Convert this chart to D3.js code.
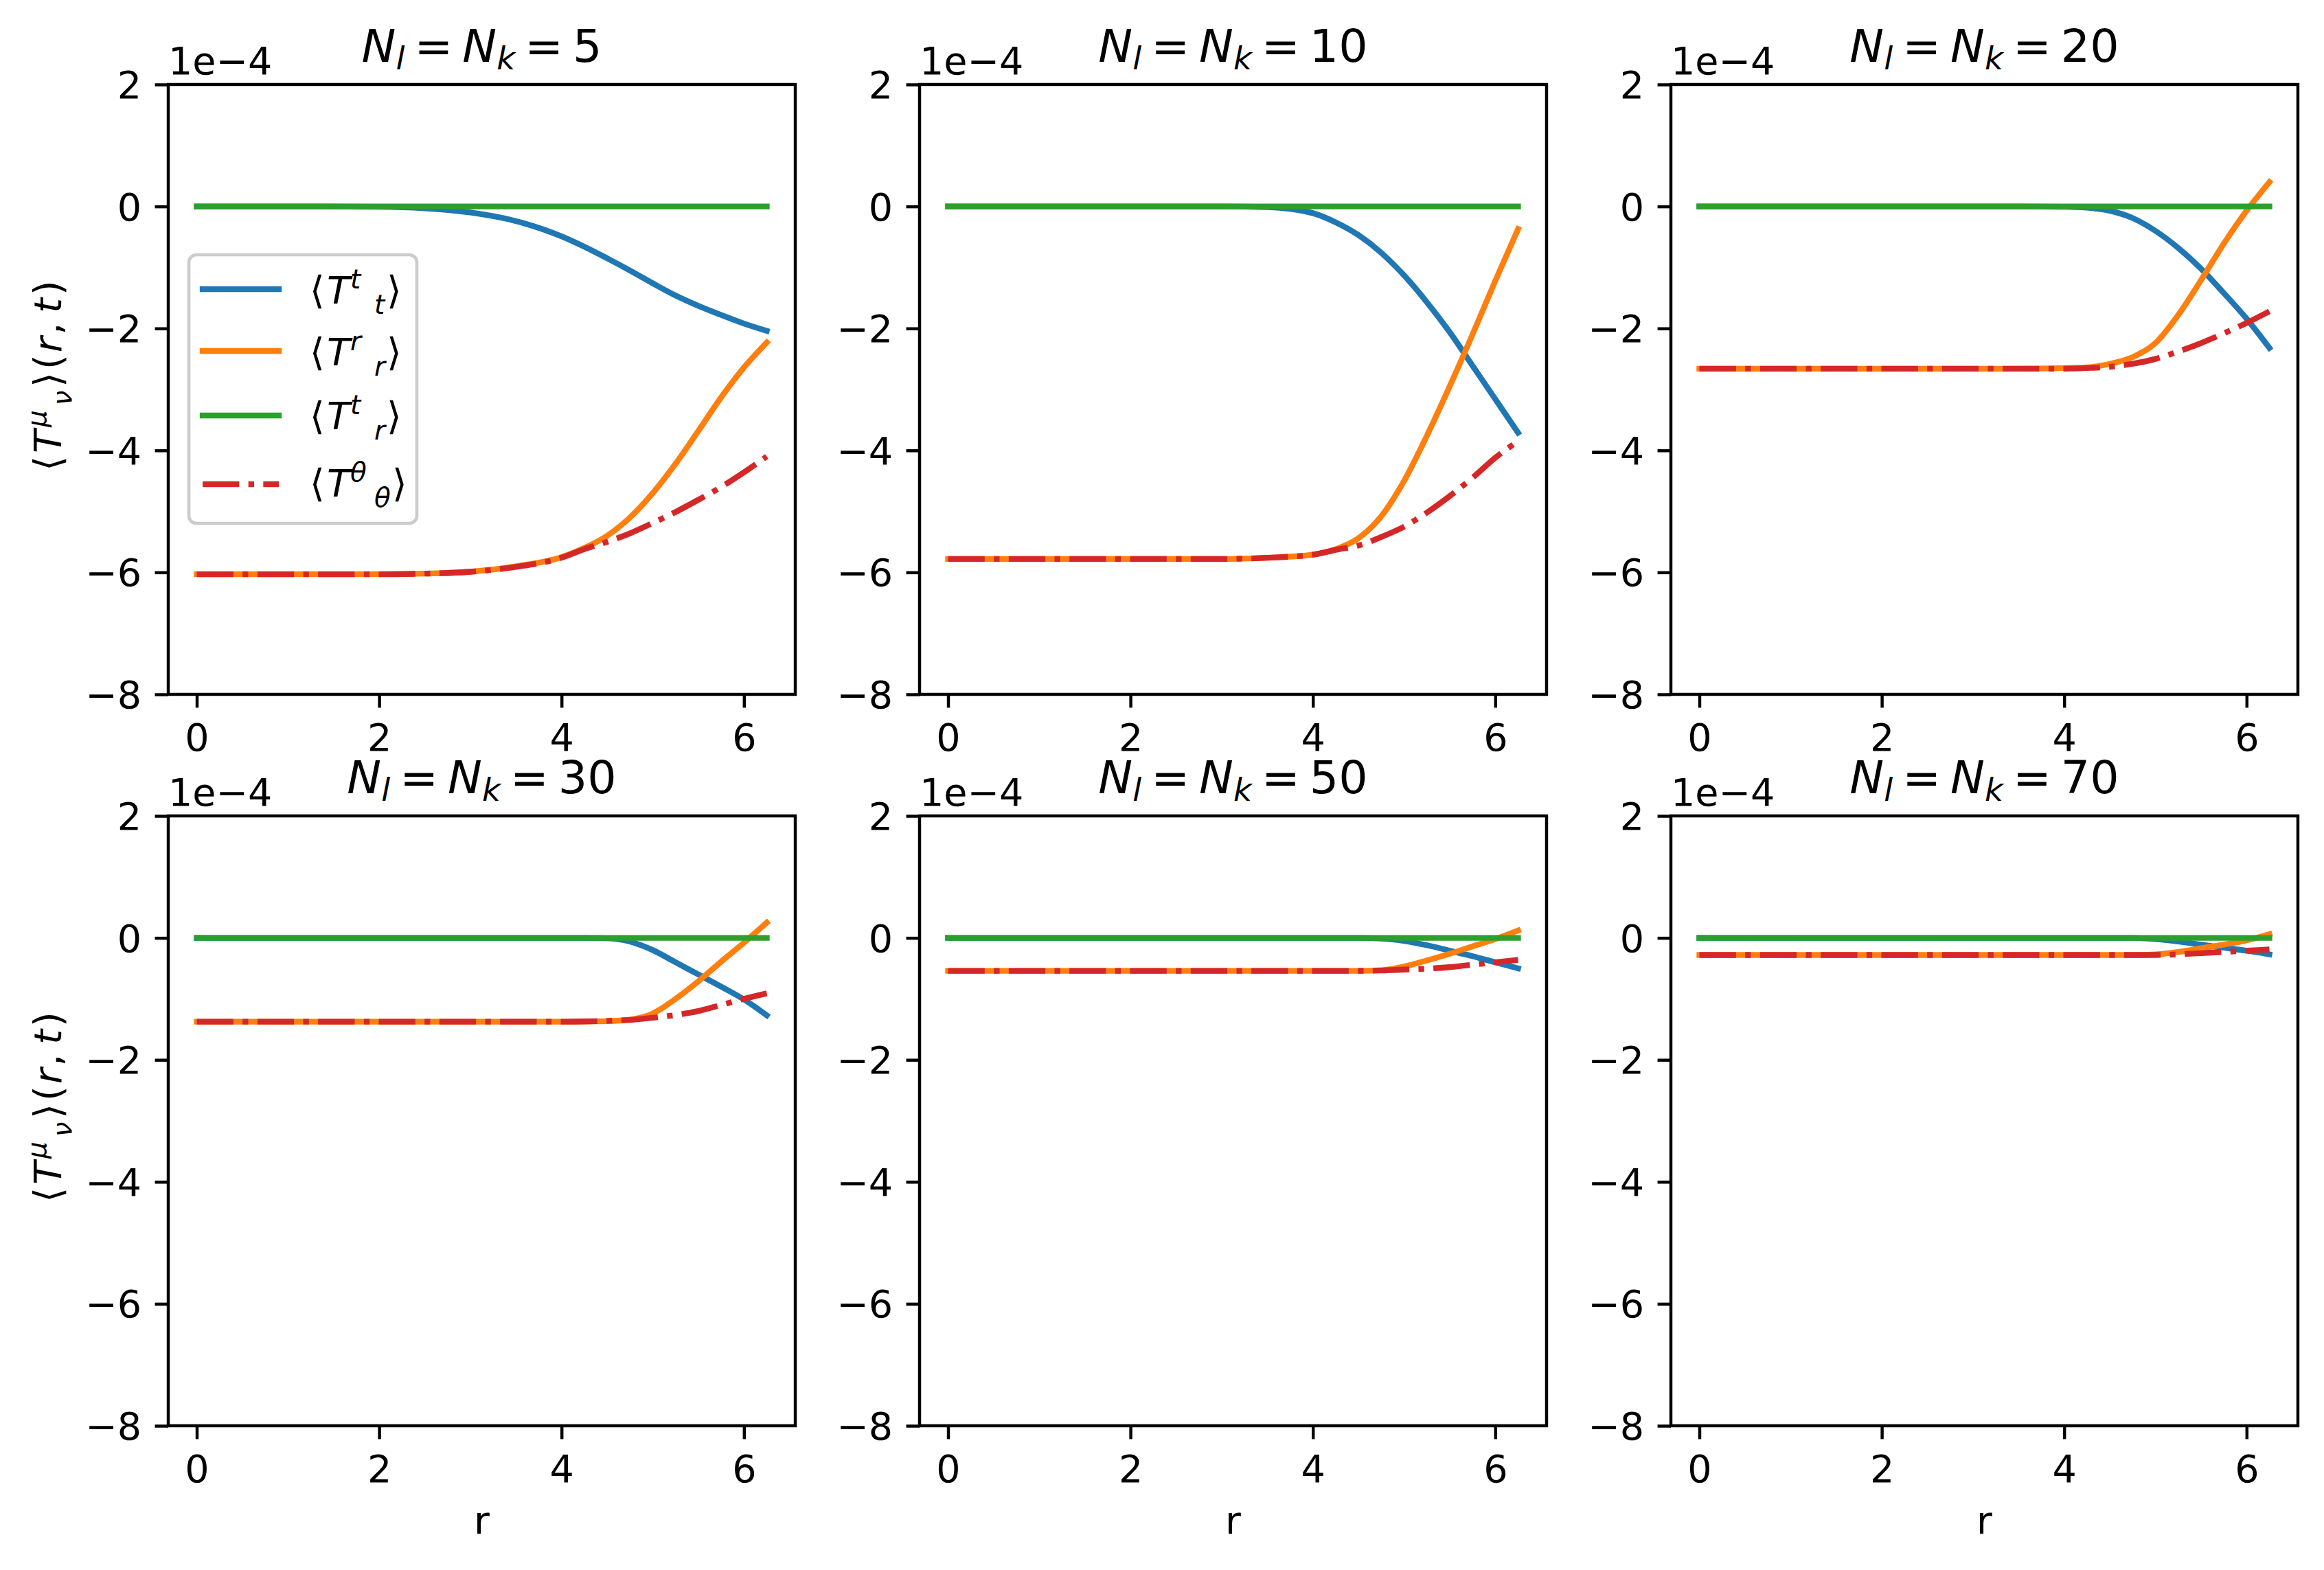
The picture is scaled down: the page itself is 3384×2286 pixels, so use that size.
<!DOCTYPE html>
<html><head><meta charset="utf-8">
<script src="https://cdn.jsdelivr.net/npm/d3@7"></script>
<style>html,body{margin:0;padding:0;background:#fff;}svg{display:block;}text{font-family:"DejaVu Sans",sans-serif;}</style>
</head><body><div id="chart"></div>
<script>
// ---- data (values in units of 1e-4) ----
const panelN = [5, 10, 20, 30, 50, 70];
const rGrid = [0, 1, 2, 2.5, 3, 3.5, 4, 4.25, 4.5, 4.75, 5, 5.25, 5.5, 5.75, 6, 6.25];
const xTicks = [0, 2, 4, 6];
const yTicks = [-8, -6, -4, -2, 0, 2];
const yDomain = [-8, 2];
const offsetLabel = "1e\u22124";
const Ttt = [
  [0, 0, -0.005, -0.03, -0.10, -0.24, -0.49, -0.66, -0.85, -1.05, -1.26, -1.46, -1.63, -1.78, -1.92, -2.04],
  [0, 0, 0, 0, 0, -0.01, -0.11, -0.26, -0.47, -0.76, -1.13, -1.57, -2.06, -2.61, -3.16, -3.71],
  [0, 0, 0, 0, 0, 0, -0.005, -0.02, -0.07, -0.19, -0.40, -0.68, -1.02, -1.42, -1.84, -2.32],
  [0, 0, 0, 0, 0, 0, 0, 0, -0.005, -0.06, -0.20, -0.40, -0.60, -0.80, -1.01, -1.27],
  [0, 0, 0, 0, 0, 0, 0, 0, 0, -0.01, -0.05, -0.12, -0.21, -0.30, -0.40, -0.50],
  [0, 0, 0, 0, 0, 0, 0, 0, 0, 0, -0.02, -0.06, -0.11, -0.16, -0.21, -0.27]
];
const Trr = [
  [-6.03, -6.03, -6.03, -6.02, -5.99, -5.90, -5.75, -5.60, -5.40, -5.10, -4.70, -4.22, -3.68, -3.13, -2.64, -2.23],
  [-5.78, -5.78, -5.78, -5.78, -5.78, -5.76, -5.71, -5.62, -5.44, -5.08, -4.50, -3.76, -2.95, -2.10, -1.22, -0.37],
  [-2.66, -2.66, -2.66, -2.66, -2.66, -2.66, -2.65, -2.64, -2.58, -2.47, -2.24, -1.78, -1.21, -0.61, -0.07, 0.40],
  [-1.375, -1.375, -1.375, -1.375, -1.375, -1.375, -1.375, -1.37, -1.365, -1.34, -1.24, -1.00, -0.71, -0.39, -0.08, 0.25],
  [-0.54, -0.54, -0.54, -0.54, -0.54, -0.54, -0.54, -0.54, -0.54, -0.53, -0.47, -0.37, -0.26, -0.14, -0.02, 0.12],
  [-0.28, -0.28, -0.28, -0.28, -0.28, -0.28, -0.28, -0.28, -0.28, -0.28, -0.27, -0.23, -0.17, -0.11, -0.04, 0.06]
];
const Ttr = [
  [0, 0, 0, 0, 0, 0, 0, 0, 0, 0, 0, 0, 0, 0, 0, 0],
  [0, 0, 0, 0, 0, 0, 0, 0, 0, 0, 0, 0, 0, 0, 0, 0],
  [0, 0, 0, 0, 0, 0, 0, 0, 0, 0, 0, 0, 0, 0, 0, 0],
  [0, 0, 0, 0, 0, 0, 0, 0, 0, 0, 0, 0, 0, 0, 0, 0],
  [0, 0, 0, 0, 0, 0, 0, 0, 0, 0, 0, 0, 0, 0, 0, 0],
  [0, 0, 0, 0, 0, 0, 0, 0, 0, 0, 0, 0, 0, 0, 0, 0]
];
const Tthth = [
  [-6.03, -6.03, -6.03, -6.02, -5.99, -5.91, -5.76, -5.62, -5.50, -5.36, -5.19, -5.01, -4.81, -4.60, -4.36, -4.10],
  [-5.78, -5.78, -5.78, -5.78, -5.78, -5.76, -5.71, -5.63, -5.56, -5.42, -5.25, -5.02, -4.75, -4.45, -4.12, -3.85],
  [-2.66, -2.66, -2.66, -2.66, -2.66, -2.66, -2.66, -2.65, -2.63, -2.58, -2.50, -2.38, -2.24, -2.08, -1.91, -1.72],
  [-1.375, -1.375, -1.375, -1.375, -1.375, -1.375, -1.375, -1.37, -1.36, -1.345, -1.31, -1.265, -1.20, -1.10, -1.00, -0.91],
  [-0.54, -0.54, -0.54, -0.54, -0.54, -0.54, -0.54, -0.54, -0.54, -0.535, -0.52, -0.505, -0.48, -0.44, -0.40, -0.36],
  [-0.28, -0.28, -0.28, -0.28, -0.28, -0.28, -0.28, -0.28, -0.28, -0.28, -0.28, -0.27, -0.25, -0.23, -0.21, -0.19]
];
const legendSup = ["t", "r", "t", "\u03b8"];
const legendSub = ["t", "r", "r", "\u03b8"];

// ---- layout ----
const W = 3384, H = 2286, PT = 400 / 72;
const axW = 913, axH = 888, left0 = 245, top0 = 123, colStep = 1094, rowStep = 1065;
const FS = 10 * PT, TFS = 12 * PT;
const colors = ["#1f77b4", "#ff7f0e", "#2ca02c", "#d62728"];
const seriesData = [Ttt, Trr, Ttr, Tthth];
const dash = [9.6, 2.4, 1.5, 2.4].map(v => v * PT).join(" ");

const svg = d3.select("#chart").append("svg").attr("width", W).attr("height", H).attr("viewBox", `0 0 ${W} ${H}`);
svg.append("rect").attr("width", W).attr("height", H).attr("fill", "#fff");

// mathtext-like helper: pieces {t, it, s, off(px down), dx}
function mtext(sel, pieces, size) {
  let prev = 0;
  pieces.forEach(p => {
    const ts = sel.append("tspan").text(p.t)
      .attr("font-size", size * (p.s || 1))
      .attr("font-style", p.it ? "italic" : "normal");
    const off = p.off || 0;
    if (off - prev !== 0) ts.attr("dy", off - prev);
    if (p.dx) ts.attr("dx", p.dx);
    prev = off;
  });
}

const xMin = d3.min(rGrid), xMax = d3.max(rGrid), xPad = (xMax - xMin) * 0.05;

panelN.forEach((n, i) => {
  const col = i % 3, row = Math.floor(i / 3);
  const left = left0 + col * colStep, top = top0 + row * rowStep;
  const x = d3.scaleLinear().domain([xMin - xPad, xMax + xPad]).range([left, left + axW]);
  const y = d3.scaleLinear().domain(yDomain).range([top + axH, top]);
  const g = svg.append("g");

  const line = d3.line().x((d, j) => x(rGrid[j])).y(d => y(d)).curve(d3.curveMonotoneX);
  seriesData.forEach((s, k) => {
    const p = g.append("path").attr("d", line(s[i])).attr("fill", "none")
      .attr("stroke", colors[k]).attr("stroke-width", 1.5 * PT)
      .attr("stroke-linejoin", "round")
      .attr("stroke-linecap", k === 3 ? "butt" : "square");
    if (k === 3) p.attr("stroke-dasharray", dash);
  });

  // axes
  const xa = g.append("g").attr("transform", `translate(0,${top + axH})`)
    .call(d3.axisBottom(x).tickValues(xTicks).tickSize(3.5 * PT).tickPadding(3.5 * PT).tickFormat(d3.format("d")));
  const ya = g.append("g").attr("transform", `translate(${left},0)`)
    .call(d3.axisLeft(y).tickValues(yTicks).tickSize(3.5 * PT).tickPadding(3.5 * PT).tickFormat(d3.format("d")));
  [xa, ya].forEach(a => {
    a.select(".domain").remove();
    a.selectAll(".tick line").attr("stroke", "#000").attr("stroke-width", 0.8 * PT);
    a.selectAll(".tick text").attr("font-size", FS).attr("fill", "#000").attr("font-family", "DejaVu Sans");
  });
  xa.selectAll(".tick text").attr("dy", "0.78em");
  ya.selectAll(".tick text").attr("dy", "0.35em");

  g.append("rect").attr("x", left).attr("y", top).attr("width", axW).attr("height", axH)
    .attr("fill", "none").attr("stroke", "#000").attr("stroke-width", 0.8 * PT);

  // offset text
  g.append("text").attr("x", left).attr("y", top - 15).attr("font-size", FS).text(offsetLabel);

  // title
  const tt = g.append("text").attr("x", left + axW / 2).attr("y", top - 6 * PT).attr("text-anchor", "middle");
  mtext(tt, [
    { t: "N", it: true },
    { t: "l", it: true, s: 0.7, off: 11 },
    { t: "=", off: 0, dx: 14 },
    { t: "N", it: true, dx: 14 },
    { t: "k", it: true, s: 0.7, off: 11 },
    { t: "=", off: 0, dx: 14 },
    { t: String(n), dx: 14 }
  ], TFS);

  // y label
  if (col === 0) {
    const yl = g.append("text").attr("text-anchor", "middle")
      .attr("transform", `translate(89,${top + axH / 2 - 20}) rotate(-90)`);
    mtext(yl, [
      { t: "\u27e8" },
      { t: "T", it: true, dx: 4 },
      { t: "\u03bc", it: true, s: 0.7, off: -22, dx: 4 },
      { t: "\u03bd", it: true, s: 0.7, off: 15, dx: 7 },
      { t: "\u27e9", off: 0, dx: 5 },
      { t: "(", dx: 4 },
      { t: "r", it: true, dx: 3 },
      { t: ",", dx: 3 },
      { t: "t", it: true, dx: 14 },
      { t: ")", dx: 4 }
    ], FS);
  }
  // x label
  if (row === 1) {
    g.append("text").attr("x", left + axW / 2).attr("y", top + axH + 157).attr("text-anchor", "middle")
      .attr("font-size", FS).text("r");
  }

  // legend
  if (i === 0) {
    const lg = svg.append("g");
    lg.append("rect").attr("x", 275).attr("y", 371).attr("width", 332).attr("height", 391)
      .attr("rx", 11).attr("ry", 11).attr("fill", "#fff").attr("fill-opacity", 0.8)
      .attr("stroke", "#cccccc").attr("stroke-width", 0.85 * PT);
    const rowY = [421, 511, 605, 705];
    const baseY = [442, 532, 625, 723];
    colors.forEach((c, k) => {
      const hl = lg.append("line").attr("x1", 295).attr("x2", 406).attr("y1", rowY[k]).attr("y2", rowY[k])
        .attr("stroke", c).attr("stroke-width", 1.5 * PT).attr("stroke-linecap", k === 3 ? "butt" : "square");
      if (k === 3) hl.attr("stroke-dasharray", dash);
      const yb = baseY[k];
      const t = lg.append("text").attr("font-size", FS);
      t.append("tspan").attr("x", 451).attr("y", yb).text("\u27e8");
      t.append("tspan").attr("x", 476).attr("y", yb).attr("font-style", "italic").text("T");
      t.append("tspan").attr("x", 510).attr("y", yb - 22).attr("font-style", "italic").attr("font-size", FS * 0.7).text(legendSup[k]);
      t.append("tspan").attr("x", 545).attr("y", yb + 15).attr("font-style", "italic").attr("font-size", FS * 0.7).text(legendSub[k]);
      t.append("tspan").attr("x", k === 3 ? 571 : 563).attr("y", yb).text("\u27e9");
    });
  }
});
</script></body></html>
